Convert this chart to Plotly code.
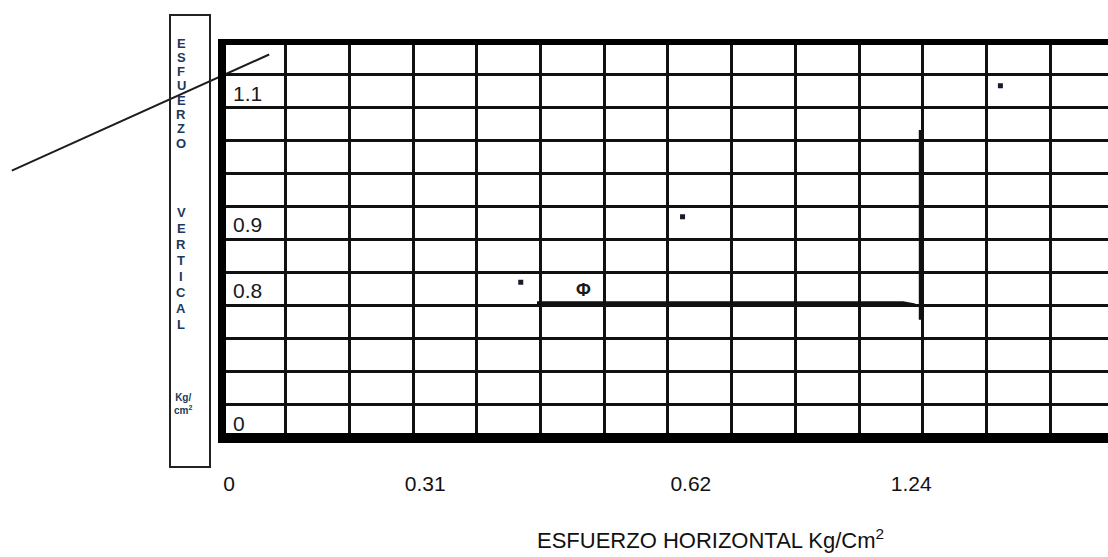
import plotly.graph_objects as go

# ---------------- data (grid-cell units of the chart paper) ----------------
POINT_X = [4.69, 7.23, 12.22]
POINT_Y = [4.71, 6.70, 10.67]

ENVELOPE_X = [-3.30, 0.74]
ENVELOPE_Y = [8.10, 11.62]

PHI_H_X = [4.945, 10.69, 10.88]
PHI_H_Y = [4.09, 4.09, 4.02]
PHI_V_X = [10.97, 10.97]
PHI_V_Y = [3.57, 9.33]
PHI_LABEL_X = 5.67
PHI_LABEL_Y = 4.48

X_TICK_POS = [0.11, 3.19, 7.36, 10.82]
X_TICK_TEXT = ["0", "0.31", "0.62", "1.24"]
Y_TICK_POS = [0.43, 4.45, 6.45, 10.43]
Y_TICK_TEXT = ["0", "0.8", "0.9", "1.1"]

BOX_WORD_1 = list("ESFUERZO")
BOX_WORD_2 = list("VERTICAL")
BOX_UNITS = "Kg/<br>cm<sup>2</sup>"
X_TITLE = "ESFUERZO HORIZONTAL Kg/Cm<sup>2</sup>"

# ---------------- layout geometry ----------------
W, H = 1108, 557
PLOT_LEFT, PLOT_TOP, PLOT_BOTTOM = 222, 42, 437.5
COL_W = 63.7
N_ROWS = 12

def px_x(p):
    return p / W

def px_y(p):
    return (H - p) / H

x_max = (W - PLOT_LEFT) / COL_W
x2_min = -PLOT_LEFT / COL_W

INK = "#111111"
TEXT_BLUE = "#22385a"
FONT = "Liberation Sans, Arial"

fig = go.Figure()

# point markers
fig.add_trace(go.Scatter(
    x=POINT_X, y=POINT_Y, mode="markers",
    marker=dict(symbol="square", size=5, color="#1a1a2a"),
    xaxis="x", yaxis="y", showlegend=False, hoverinfo="skip"))

# phi construction lines
fig.add_trace(go.Scatter(
    x=PHI_H_X, y=PHI_H_Y, mode="lines",
    line=dict(color=INK, width=3), xaxis="x", yaxis="y",
    showlegend=False, hoverinfo="skip"))
fig.add_trace(go.Scatter(
    x=PHI_V_X, y=PHI_V_Y, mode="lines",
    line=dict(color=INK, width=4), xaxis="x", yaxis="y",
    showlegend=False, hoverinfo="skip"))

# envelope line (extends left beyond the grid, so drawn on a wider, hidden pair of axes)
fig.add_trace(go.Scatter(
    x=ENVELOPE_X, y=ENVELOPE_Y, mode="lines",
    line=dict(color="#1c1c1c", width=2), xaxis="x2", yaxis="y2",
    showlegend=False, hoverinfo="skip"))

fig.add_annotation(x=PHI_LABEL_X, y=PHI_LABEL_Y, xref="x", yref="y",
                   text="<b>Φ</b>", showarrow=False,
                   font=dict(family=FONT, size=18, color="#1a1a1a"))

# y labels written inside the first column of the grid
for yv, txt in zip(Y_TICK_POS, Y_TICK_TEXT):
    fig.add_annotation(x=px_x(231), y=yv, xref="paper", yref="y",
                       text=txt, showarrow=False, xanchor="left", yanchor="middle",
                       font=dict(family=FONT, size=21, color="#161a22"))

shapes = []
# thick frame (left, top, bottom); right side runs off the page
shapes.append(dict(type="line", xref="paper", yref="paper",
                   x0=px_x(PLOT_LEFT), x1=px_x(PLOT_LEFT),
                   y0=px_y(PLOT_TOP - 3), y1=px_y(PLOT_BOTTOM + 5.5),
                   line=dict(color="black", width=8), layer="above"))
shapes.append(dict(type="line", xref="paper", yref="paper",
                   x0=px_x(PLOT_LEFT - 4), x1=1.02,
                   y0=px_y(PLOT_TOP), y1=px_y(PLOT_TOP),
                   line=dict(color="black", width=6), layer="above"))
shapes.append(dict(type="line", xref="paper", yref="paper",
                   x0=px_x(PLOT_LEFT - 4), x1=1.02,
                   y0=px_y(PLOT_BOTTOM + 0.5), y1=px_y(PLOT_BOTTOM + 0.5),
                   line=dict(color="black", width=10), layer="above"))
# vertical label box
shapes.append(dict(type="rect", xref="paper", yref="paper",
                   x0=px_x(170), x1=px_x(210), y0=px_y(467), y1=px_y(15),
                   line=dict(color="#222222", width=2), fillcolor="rgba(0,0,0,0)",
                   layer="above"))

annotations = []
for i, ch in enumerate(BOX_WORD_1):
    annotations.append(dict(x=px_x(181), y=px_y(43 + i * 14.3), xref="paper", yref="paper",
                            text=f"<b>{ch}</b>", showarrow=False, xanchor="center", yanchor="middle",
                            font=dict(family=FONT, size=13, color=TEXT_BLUE)))
for i, ch in enumerate(BOX_WORD_2):
    annotations.append(dict(x=px_x(181), y=px_y(212 + i * 16), xref="paper", yref="paper",
                            text=f"<b>{ch}</b>", showarrow=False, xanchor="center", yanchor="middle",
                            font=dict(family=FONT, size=13, color=TEXT_BLUE)))
annotations.append(dict(x=px_x(183), y=px_y(404), xref="paper", yref="paper",
                        text=f"<b>{BOX_UNITS}</b>", showarrow=False, xanchor="center", yanchor="middle",
                        font=dict(family=FONT, size=10, color=TEXT_BLUE)))
annotations.append(dict(x=px_x(710), y=px_y(539), xref="paper", yref="paper",
                        text=X_TITLE, showarrow=False, xanchor="center", yanchor="middle",
                        font=dict(family=FONT, size=22, color="#111111")))
for a in annotations:
    fig.add_annotation(**a)

grid_minor = dict(tick0=0, dtick=1, showgrid=True, gridcolor=INK, gridwidth=3, ticks="")
y_domain = [px_y(PLOT_BOTTOM), px_y(PLOT_TOP)]

fig.update_layout(
    width=W, height=H, autosize=False,
    margin=dict(l=0, r=0, t=0, b=0),
    paper_bgcolor="white", plot_bgcolor="rgba(0,0,0,0)",
    shapes=shapes,
    xaxis=dict(domain=[px_x(PLOT_LEFT), 1], range=[0, x_max], anchor="y",
               showgrid=False, zeroline=False, showline=False,
               tickmode="array", tickvals=X_TICK_POS, ticktext=X_TICK_TEXT,
               ticks="", ticklabelstandoff=31,
               tickfont=dict(family=FONT, size=21, color="#111111"),
               minor=grid_minor),
    xaxis2=dict(domain=[0, 1], range=[x2_min, x_max], anchor="y2", visible=False),
    yaxis2=dict(domain=y_domain, range=[0, N_ROWS], anchor="x2", visible=False),
    yaxis=dict(domain=y_domain, range=[0, N_ROWS], anchor="x",
               showgrid=True, gridcolor=INK, gridwidth=3,
               tickmode="linear", tick0=0, dtick=1,
               zeroline=False, showline=False,
               showticklabels=False, ticks=""),
)

fig.write_html("out.html", config={"displayModeBar": False},
               post_script="document.body.style.margin='0';document.body.style.overflow='hidden';")
